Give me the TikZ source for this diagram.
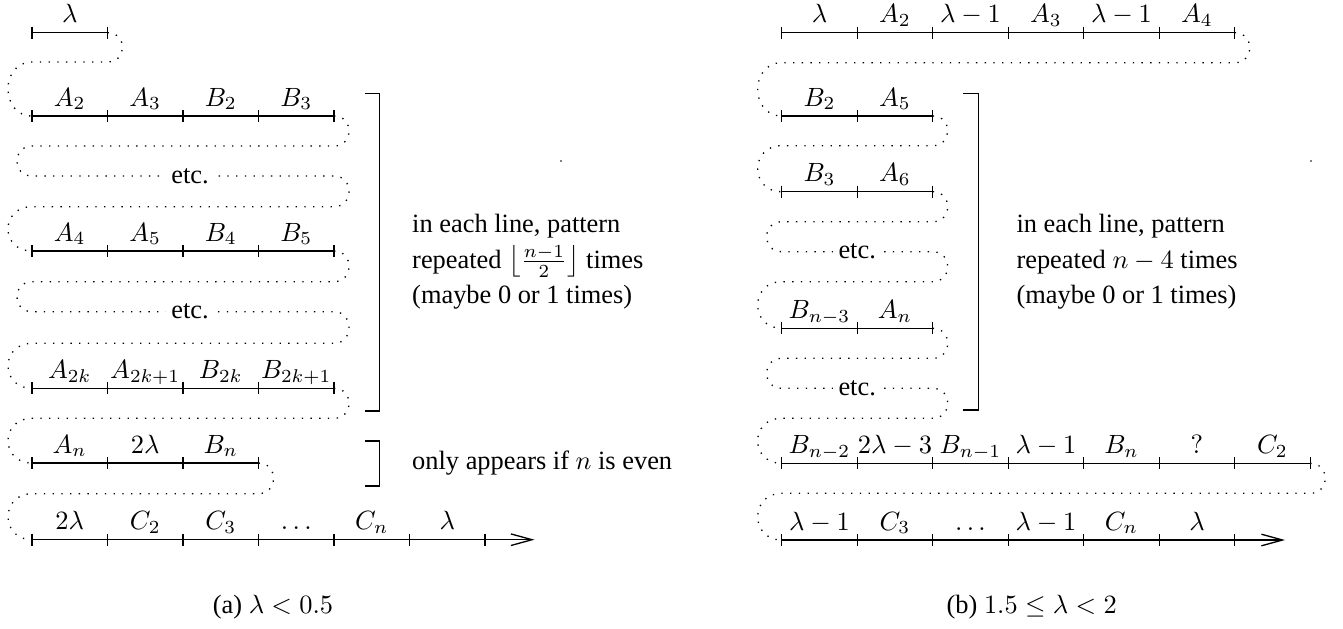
\documentclass[tikz,border=0pt]{standalone}
\usepackage{fontspec}
\IfFontExistsTF{LiberationSerif-Regular.ttf}
  {\setmainfont{LiberationSerif-Regular.ttf}[BoldFont=LiberationSerif-Bold.ttf,ItalicFont=LiberationSerif-Italic.ttf]}
  {\setmainfont{Liberation Serif}}
\usetikzlibrary{arrows.meta}
\tikzset{
  seg/.style={line width=0.5pt},
  snake/.style={line width=0.5pt, dash pattern=on 0.5pt off 2.8pt},
  lab/.style={anchor=base, inner sep=0pt},
  note/.style={anchor=base west, inner sep=0pt},
  etcnode/.style={fill=white, inner sep=2pt},
  brk/.style={line width=0.6pt},
  arr/.style={seg, -{Straight Barb[length=8pt,width=4.4pt]}},
}
\newcommand\segrow[5]{%
  \foreach \k in {0,...,#4}{\coordinate (#1-\k) at ({#2+75.5*\k},#3); \draw[seg] (#1-\k) ++(0,-6) -- ++(0,12);}
  \draw[seg] (#1-0) -- (#1-#4);
  \foreach \mylab [count=\i] in {#5}{\node[lab] (#1-l\i) at ({#2+75.5*(\i-0.5)},{#3-10}) {\mylab};}
}
\begin{document}
\begin{tikzpicture}[x=0.3788pt, y=-0.3788pt]
\useasboundingbox (0,0) rectangle (1343,628);

% ---------------- panel (a) ----------------
\segrow{a1}{32}{32.7}{1}{$\lambda$}
\segrow{a2}{32}{116}{4}{$A_2$,$A_3$,$B_2$,$B_3$}
\segrow{a3}{32}{251}{4}{$A_4$,$A_5$,$B_4$,$B_5$}
\segrow{a4}{32}{388.3}{4}{$A_{2k}$,$A_{2k+1}$,$B_{2k}$,$B_{2k+1}$}
\segrow{a5}{32}{463}{3}{$A_n$,$2\lambda$,$B_n$}
\segrow{a6}{32}{539.7}{6}{$2\lambda$,$C_2$,$C_3$,$\ldots$,$C_n$,$\lambda$}
\coordinate (a6tip) at (534.5,539.7);
\draw[arr] (a6-6) -- (a6tip);

\coordinate (ad1L) at (32,62);    \coordinate (ad1R) at (107.5,62);
\coordinate (ad2L) at (32,146);   \coordinate (ad2R) at (334,146);
\coordinate (ae1L) at (32,176);   \coordinate (ae1R) at (334,176);
\coordinate (ad3L) at (32,206.7); \coordinate (ad3R) at (334,206.7);
\coordinate (ad4L) at (32,281.7); \coordinate (ad4R) at (334,281.7);
\coordinate (ae2L) at (32,311.7); \coordinate (ae2R) at (334,311.7);
\coordinate (ad5L) at (32,343.3); \coordinate (ad5R) at (334,343.3);
\coordinate (ad6L) at (32,418.3); \coordinate (ad6R) at (334,418.3);
\coordinate (ad7L) at (32,493.7); \coordinate (ad7R) at (258.5,493.7);

\draw[snake] (a1-1) .. controls +(20,0) and +(20,0) .. (ad1R) -- (ad1L)
  .. controls +(-32,0) and +(-32,0) .. (a2-0);
\draw[snake] (a2-4) .. controls +(20,0) and +(20,0) .. (ad2R) -- (ad2L)
  .. controls +(-20,0) and +(-20,0) .. (ae1L) -- (ae1R)
  .. controls +(20,0) and +(20,0) .. (ad3R) -- (ad3L)
  .. controls +(-32,0) and +(-32,0) .. (a3-0);
\draw[snake] (a3-4) .. controls +(20,0) and +(20,0) .. (ad4R) -- (ad4L)
  .. controls +(-20,0) and +(-20,0) .. (ae2L) -- (ae2R)
  .. controls +(20,0) and +(20,0) .. (ad5R) -- (ad5L)
  .. controls +(-32,0) and +(-32,0) .. (a4-0);
\draw[snake] (a4-4) .. controls +(20,0) and +(20,0) .. (ad6R) -- (ad6L)
  .. controls +(-32,0) and +(-32,0) .. (a5-0);
\draw[snake] (a5-3) .. controls +(20,0) and +(20,0) .. (ad7R) -- (ad7L)
  .. controls +(-32,0) and +(-32,0) .. (a6-0);
\node[etcnode] (aetc1) at (190,176) {etc.};
\node[etcnode] (aetc2) at (190,311.7) {etc.};

\coordinate (ab1a) at (365,93.3);  \coordinate (ab1b) at (379.5,93.3);
\coordinate (ab1c) at (379.5,410.7); \coordinate (ab1d) at (365,410.7);
\draw[brk] (ab1a) -- (ab1b) -- (ab1c) -- (ab1d);
\coordinate (ab2a) at (365,441);  \coordinate (ab2b) at (379.5,441);
\coordinate (ab2c) at (379.5,486); \coordinate (ab2d) at (365,486);
\draw[brk] (ab2a) -- (ab2b) -- (ab2c) -- (ab2d);

\node[note] (an1) at (411.7,232.3) {in each line, pattern};
\node[note] (an2) at (411.7,268.3) {repeated $\left\lfloor\frac{n-1}{2}\right\rfloor$ times};
\node[note] (an3) at (411.7,303.3) {(maybe 0 or 1 times)};
\node[note] (an4) at (411.7,469.3) {only appears if $n$ is even};
\node[lab] (acap) at (273,613) {(a) $\lambda<0.5$};
\fill (561,161) circle[radius=0.35pt];

% ---------------- panel (b) ----------------
\segrow{b1}{781.7}{32.7}{6}{$\lambda$,$A_2$,$\lambda-1$,$A_3$,$\lambda-1$,$A_4$}
\segrow{b2}{781.7}{116}{2}{$B_2$,$A_5$}
\segrow{b3}{781.7}{191.7}{2}{$B_3$,$A_6$}
\segrow{b4}{781.7}{328.3}{2}{$B_{n-3}$,$A_n$}
\segrow{b5}{781.7}{463.3}{7}{$B_{n-2}$,$2\lambda-3$,$B_{n-1}$,$\lambda-1$,$B_n$,$?$,$C_2$}
\segrow{b6}{781.7}{540}{6}{$\lambda-1$,$C_3$,$\ldots$,$\lambda-1$,$C_n$,$\lambda$}
\coordinate (b6tip) at (1285,540);
\draw[arr] (b6-6) -- (b6tip);

\coordinate (bd1L) at (781.7,62.7);  \coordinate (bd1R) at (1234.7,62.7);
\coordinate (bd2L) at (781.7,145.7); \coordinate (bd2R) at (932.7,145.7);
\coordinate (bd3L) at (781.7,221.7); \coordinate (bd3R) at (932.7,221.7);
\coordinate (be1L) at (781.7,251.7); \coordinate (be1R) at (932.7,251.7);
\coordinate (bd4L) at (781.7,281.7); \coordinate (bd4R) at (932.7,281.7);
\coordinate (bd5L) at (781.7,358.3); \coordinate (bd5R) at (932.7,358.3);
\coordinate (be2L) at (781.7,388.3); \coordinate (be2R) at (932.7,388.3);
\coordinate (bd6L) at (781.7,418.3); \coordinate (bd6R) at (932.7,418.3);
\coordinate (bd7L) at (781.7,493.3); \coordinate (bd7R) at (1310.2,493.3);

\draw[snake] (b1-6) .. controls +(20,0) and +(20,0) .. (bd1R) -- (bd1L)
  .. controls +(-32,0) and +(-32,0) .. (b2-0);
\draw[snake] (b2-2) .. controls +(20,0) and +(20,0) .. (bd2R) -- (bd2L)
  .. controls +(-32,0) and +(-32,0) .. (b3-0);
\draw[snake] (b3-2) .. controls +(20,0) and +(20,0) .. (bd3R) -- (bd3L)
  .. controls +(-20,0) and +(-20,0) .. (be1L) -- (be1R)
  .. controls +(20,0) and +(20,0) .. (bd4R) -- (bd4L)
  .. controls +(-32,0) and +(-32,0) .. (b4-0);
\draw[snake] (b4-2) .. controls +(20,0) and +(20,0) .. (bd5R) -- (bd5L)
  .. controls +(-20,0) and +(-20,0) .. (be2L) -- (be2R)
  .. controls +(20,0) and +(20,0) .. (bd6R) -- (bd6L)
  .. controls +(-32,0) and +(-32,0) .. (b5-0);
\draw[snake] (b5-7) .. controls +(20,0) and +(20,0) .. (bd7R) -- (bd7L)
  .. controls +(-32,0) and +(-32,0) .. (b6-0);
\node[etcnode] (betc1) at (857.2,251.7) {etc.};
\node[etcnode] (betc2) at (857.2,388.3) {etc.};

\coordinate (bb1a) at (963.3,93.3);  \coordinate (bb1b) at (978.3,93.3);
\coordinate (bb1c) at (978.3,410);   \coordinate (bb1d) at (963.3,410);
\draw[brk] (bb1a) -- (bb1b) -- (bb1c) -- (bb1d);

\node[note] (bn1) at (1016,232.3) {in each line, pattern};
\node[note] (bn2) at (1016,268.3) {repeated $n-4$ times};
\node[note] (bn3) at (1016,303.3) {(maybe 0 or 1 times)};
\node[lab] (bcap) at (1031.7,613) {(b) $1.5\le\lambda<2$};
\fill (1311,161) circle[radius=0.35pt];
\end{tikzpicture}
\end{document}
